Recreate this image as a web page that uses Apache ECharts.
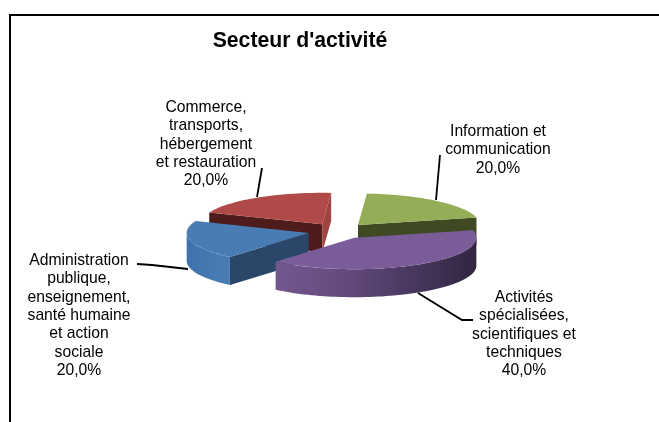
<!DOCTYPE html>
<html>
<head>
<meta charset="utf-8">
<title>Secteur d'activité</title>
<style>
  html, body { margin: 0; padding: 0; background: #fff; }
  #chart { width: 659px; height: 422px; }
</style>
<script src="https://cdn.jsdelivr.net/npm/echarts@6/dist/echarts.min.js"></script>
</head>
<body>
<div id="chart"></div>
<script>
  // drawing order is back to front, startAngles gives each slice its place on the circle
  var categories = [
    'Information et\ncommunication',
    'Commerce,\ntransports,\nhébergement\net restauration',
    'Administration\npublique,\nenseignement,\nsanté humaine\net action\nsociale',
    'Activités\nspécialisées,\nscientifiques et\ntechniques'
  ]
  var values = [20, 20, 20, 40]
  // clockwise order round the pie (indexes into values)
  var pieOrder = [0, 3, 2, 1]

  var topColors = ['#93ae56', '#b04a48', '#4a7cb4', '#7a5c98']
  var cutColors = ['#3f4a22', '#4f1c1c', '#2a4669', '#3a2c4a']
  var endColors = ['#3f4a22', '#a04442', '#3b638f', '#5d4674']
  var rimColors = [
    null,
    null,
    ['#3f72ac', '#4a7cb4'],
    ['#72578f', '#644b7e', '#4a3860', '#322540']
  ]
  // label text centre (x, first line y) and leader line for each slice
  var labelPos = [[498, 131.5], [206, 107.5], [79, 260.5], [524, 297.5]]
  var leaders = [
    [[436, 200], [440, 155]],
    [[257, 197], [262, 168]],
    [[188, 269], [152, 265], [137, 264]],
    [[418, 293], [462, 320], [473, 320]]
  ]

  var START_ANGLE = 4.2
  var EXPLODE = 0.25
  var DEPTH = 28
  var LINE_H = 18.4

  var total = values.reduce(function (a, b) { return a + b }, 0)
  var spans = {}
  var acc = START_ANGLE
  pieOrder.forEach(function (i) {
    var sweep = values[i] / total * 360
    spans[i] = [acc, acc + sweep]
    acc += sweep
  })

  function rad(d) { return d * Math.PI / 180 }
  function pct(v) { return (v / total * 100).toFixed(1).replace('.', ',') + '%' }

  function renderSlice(params, api) {
    var i = params.dataIndex
    var a0 = spans[i][0], a1 = spans[i][1]
    var mid = rad((a0 + a1) / 2)
    var ox = Math.sin(mid) * EXPLODE, oy = Math.cos(mid) * EXPLODE
    function pt(deg, r) {
      return api.coord([ox + r * Math.sin(rad(deg)), oy + r * Math.cos(rad(deg))])
    }
    function low(p) { return [p[0], p[1] + DEPTH] }
    function arc(from, to) {
      var out = []
      var n = Math.max(2, Math.ceil(Math.abs(to - from) / 2))
      for (var k = 0; k <= n; k++) out.push(pt(from + (to - from) * k / n, 1))
      return out
    }
    var apex = pt(0, 0)
    var children = []
    function face(points, fill) {
      children.push({ type: 'polygon', shape: { points: points }, style: { fill: fill, stroke: null } })
    }
    // cut faces, only the ones turned towards the viewer
    if (Math.cos(rad(a0 - 90)) < 0) {
      var s = pt(a0, 1)
      face([apex, s, low(s), low(apex)], cutColors[i])
    }
    if (Math.cos(rad(a1 + 90)) < 0) {
      var e = pt(a1, 1)
      face([apex, e, low(e), low(apex)], endColors[i])
    }
    // outer wall, front half of the circle
    var r0 = Math.max(a0, 90), r1 = Math.min(a1, 270)
    if (r1 > r0 && rimColors[i]) {
      var rim = arc(r0, r1)
      var stops = rimColors[i].map(function (c, k, all) {
        return { offset: k / (all.length - 1), color: c }
      })
      face(rim.concat(rim.slice().reverse().map(low)),
        new echarts.graphic.LinearGradient(0, 0, 1, 0, stops))
    }
    face([apex].concat(arc(a0, a1)), topColors[i])
    return { type: 'group', children: children }
  }

  var graphics = []
  categories.forEach(function (name, i) {
    graphics.push({
      type: 'polyline',
      shape: { points: leaders[i] },
      style: { stroke: '#000', lineWidth: 1.8, fill: null },
      z: 5
    })
    var lines = name.split('\n').concat(pct(values[i]))
    lines.forEach(function (t, k) {
      graphics.push({
        type: 'text',
        x: labelPos[i][0],
        y: labelPos[i][1] + k * LINE_H,
        style: {
          text: t,
          fill: '#000',
          font: '15.7px "Liberation Sans", Arial, sans-serif',
          align: 'center',
          verticalAlign: 'middle'
        },
        z: 6
      })
    })
  })
  // only the top and left edges of the frame are in the picture
  graphics.push({
    type: 'polyline',
    shape: { points: [[10, 422], [10, 15], [659, 15]] },
    style: { stroke: '#000', lineWidth: 2, fill: null },
    z: 7
  })

  var myChart = echarts.init(document.getElementById('chart'), null, { renderer: 'canvas' })
  myChart.setOption({
    backgroundColor: '#fff',
    animation: false,
    title: {
      text: "Secteur d'activité",
      left: 295,
      top: 26,
      textAlign: 'center',
      textStyle: {
        color: '#000',
        fontSize: 21.2,
        fontWeight: 'bold',
        fontFamily: '"Liberation Sans", Arial, sans-serif'
      }
    },
    // unit circle squashed by the grid: x -1..1 is 244px, y -1..1 is 63px
    grid: { left: 216.3, top: 199.5, width: 244, height: 63 },
    xAxis: { type: 'value', min: -1, max: 1, show: false },
    yAxis: { type: 'value', min: -1, max: 1, show: false },
    series: [{
      type: 'custom',
      coordinateSystem: 'cartesian2d',
      clip: false,
      silent: true,
      renderItem: renderSlice,
      encode: { x: 0, y: 1 },
      data: values.map(function (v) { return [0, 0, v] })
    }],
    graphic: graphics
  })
</script>
</body>
</html>
